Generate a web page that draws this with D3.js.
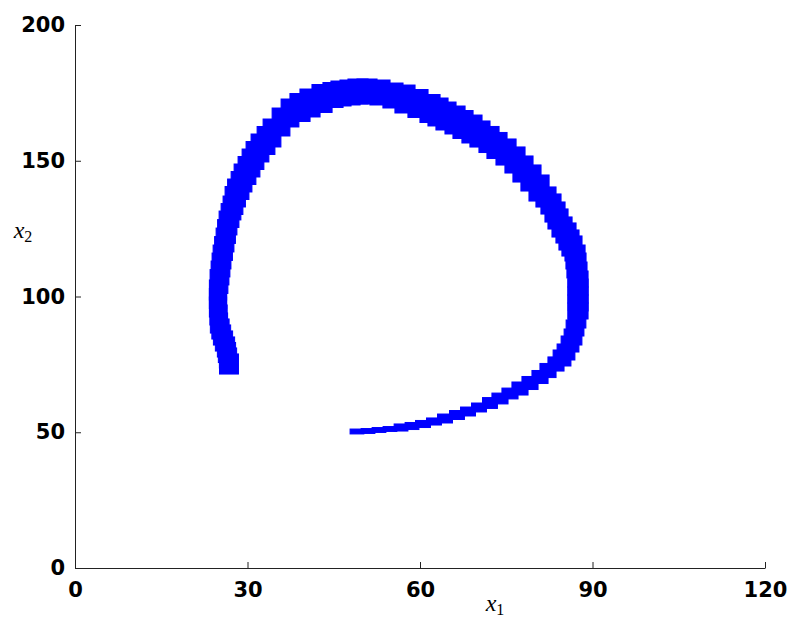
<!DOCTYPE html>
<html>
<head>
<meta charset="utf-8">
<script src="https://cdn.jsdelivr.net/npm/d3@7"></script>
<style>
html,body{margin:0;padding:0;background:#fff;}
svg{display:block;}
</style>
</head>
<body>
<svg id="chart" width="790" height="617"></svg>
<script>
// Box centres along the trajectory (x1, x2) and box widths (w1 in x1 units, w2 in x2 units)
const x1 = [
  49.04,50.96,52.87,54.78,56.70,58.61,60.52,62.43,64.35,66.43,
  68.35,70.26,72.17,73.91,75.65,77.39,79.13,80.87,82.26,83.65,
  84.70,85.39,86.09,86.61,86.96,87.30,87.48,87.48,87.48,87.48,
  87.48,87.30,87.13,86.96,86.43,85.91,85.39,84.70,84.00,83.48,
  82.78,81.91,80.70,79.30,77.91,76.52,74.96,73.39,72.00,70.43,
  69.04,67.48,66.09,64.52,63.13,61.74,59.65,57.39,55.30,53.04,
  50.78,49.22,47.83,46.26,44.87,42.96,40.87,39.13,37.39,35.83,
  34.26,33.22,32.17,31.30,30.61,29.91,29.22,28.70,28.09,27.65,
  27.30,26.96,26.61,26.35,26.09,25.83,25.57,25.39,25.22,25.04,
  24.87,24.87,24.87,24.96,25.04,25.30,25.57,25.91,26.26,26.43,26.61,26.78
];
const x2 = [
  50.28,50.46,50.83,51.20,51.75,52.30,53.04,53.96,55.06,56.35,
  57.64,59.12,60.77,62.43,64.27,66.11,68.14,70.35,72.74,75.14,
  77.35,79.56,82.50,85.08,88.40,91.34,94.66,97.61,100.55,103.50,
  106.45,109.76,113.08,116.02,118.60,120.81,123.39,125.60,128.55,131.12,
  134.07,136.65,139.96,143.65,146.96,150.28,153.22,155.62,157.83,159.85,
  161.69,163.35,165.01,166.48,167.96,169.24,171.09,172.74,174.03,175.14,
  175.51,175.51,175.14,174.77,174.22,172.93,171.27,169.61,167.59,164.27,
  160.22,157.46,154.70,151.93,149.17,146.41,143.65,140.88,138.12,135.36,
  132.60,129.83,127.07,123.94,120.81,117.68,114.55,111.60,108.66,105.52,
  102.39,99.26,96.13,93.19,90.24,88.03,85.82,83.61,81.40,79.37,77.35,75.14
];
const w1 = [
  2.4,2.4,2.4,2.4,2.4,2.4,2.6,2.6,2.6,2.6,
  2.6,2.6,2.6,2.8,2.8,2.8,2.8,2.8,2.8,2.8,
  3.1,3.1,3.1,3.1,3.1,3.1,3.5,3.5,3.5,3.5,
  3.5,3.5,3.5,3.5,3.5,3.5,3.5,3.5,3.5,3.5,
  3.5,3.5,3.5,3.5,3.5,3.5,3.5,3.5,3.5,3.5,
  3.5,3.5,3.5,3.5,3.5,3.5,3.5,3.5,3.5,3.5,
  3.5,3.5,3.5,3.5,3.5,3.5,3.5,3.5,3.1,3.1,
  3.1,3.1,3.1,3.1,3.1,3.1,3.1,3.1,3.1,3.1,
  3.1,3.1,3.1,3.1,3.1,3.1,3.1,3.1,3.1,3.1,
  3.0,3.0,3.0,3.0,3.0,3.0,3.0,3.0,3.0,3.0,3.0,3.3
];
const w2 = [
  1.8,1.8,1.8,1.8,2.6,2.6,2.6,2.6,3.3,3.3,
  3.3,3.3,4.0,4.0,4.0,4.8,4.8,4.8,5.2,5.2,
  5.9,5.9,5.9,5.9,5.9,5.9,5.9,5.9,5.9,5.9,
  5.9,5.9,5.9,5.9,7.4,7.4,7.4,7.4,7.4,7.4,
  7.4,7.4,9.6,9.6,9.6,9.6,9.6,9.6,9.6,9.6,
  10.3,10.3,10.3,10.3,10.3,10.3,10.3,10.3,9.2,9.2,
  9.2,9.2,9.2,9.2,9.2,10.3,10.3,10.3,10.3,10.3,
  10.3,10.3,10.3,10.3,10.3,10.3,10.3,10.3,10.3,10.3,
  8.8,8.8,8.8,8.8,8.8,8.8,8.8,8.8,8.8,8.8,
  7.4,7.4,7.4,7.4,7.4,7.4,7.4,7.4,7.4,7.4,7.4,7.4
];
const xTicks = [0, 30, 60, 90, 120];
const yTicks = [0, 50, 100, 150, 200];
const xDomain = [0, 120];
const yDomain = [0, 200];

const W = 790, H = 617;
const margin = {left: 75, right: 25, top: 25, bottom: 49};
const svg = d3.select("#chart");

const xs = d3.scaleLinear().domain(xDomain).range([margin.left, W - margin.right]);
const ys = d3.scaleLinear().domain(yDomain).range([H - margin.bottom, margin.top]);

const boxes = x1.map((v, i) => ({x: v, y: x2[i], w: w1[i], h: w2[i]}));

svg.append("g")
  .selectAll("rect")
  .data(boxes)
  .join("rect")
  .attr("x", d => xs(d.x - d.w / 2))
  .attr("y", d => ys(d.y + d.h / 2))
  .attr("width", d => xs(d.x + d.w / 2) - xs(d.x - d.w / 2))
  .attr("height", d => ys(d.y - d.h / 2) - ys(d.y + d.h / 2))
  .attr("fill", "#0000ff")
  .attr("stroke", "#0000ff")
  .attr("stroke-width", 1);

const tickFont = "'DejaVu Sans', sans-serif";

const gx = svg.append("g")
  .attr("transform", `translate(0,${H - margin.bottom})`)
  .call(d3.axisBottom(xs).tickValues(xTicks).tickSizeInner(-6).tickSizeOuter(0).tickPadding(14).tickFormat(d3.format("d")));
const gy = svg.append("g")
  .attr("transform", `translate(${margin.left},0)`)
  .call(d3.axisLeft(ys).tickValues(yTicks).tickSizeInner(-6).tickSizeOuter(0).tickPadding(10).tickFormat(d3.format("d")));

[gx, gy].forEach(g => {
  g.select(".domain").attr("stroke", "#222").attr("stroke-width", 1);
  g.selectAll(".tick line").attr("stroke", "#222").attr("stroke-width", 1);
  g.selectAll(".tick text")
    .attr("fill", "#000")
    .style("font-family", tickFont)
    .style("font-weight", "bold")
    .style("font-size", "21px");
});

// axis labels
const xl = svg.append("text")
  .attr("x", 495).attr("y", 611)
  .attr("text-anchor", "middle")
  .style("font-family", "'Liberation Serif', 'Times New Roman', serif")
  .style("font-size", "24px");
xl.append("tspan").style("font-style", "italic").text("x");
xl.append("tspan").attr("dy", 4).style("font-size", "16px").text("1");

const yl = svg.append("text")
  .attr("x", 23).attr("y", 238)
  .attr("text-anchor", "middle")
  .style("font-family", "'Liberation Serif', 'Times New Roman', serif")
  .style("font-size", "24px");
yl.append("tspan").style("font-style", "italic").text("x");
yl.append("tspan").attr("dy", 4).style("font-size", "16px").text("2");
</script>
</body>
</html>
